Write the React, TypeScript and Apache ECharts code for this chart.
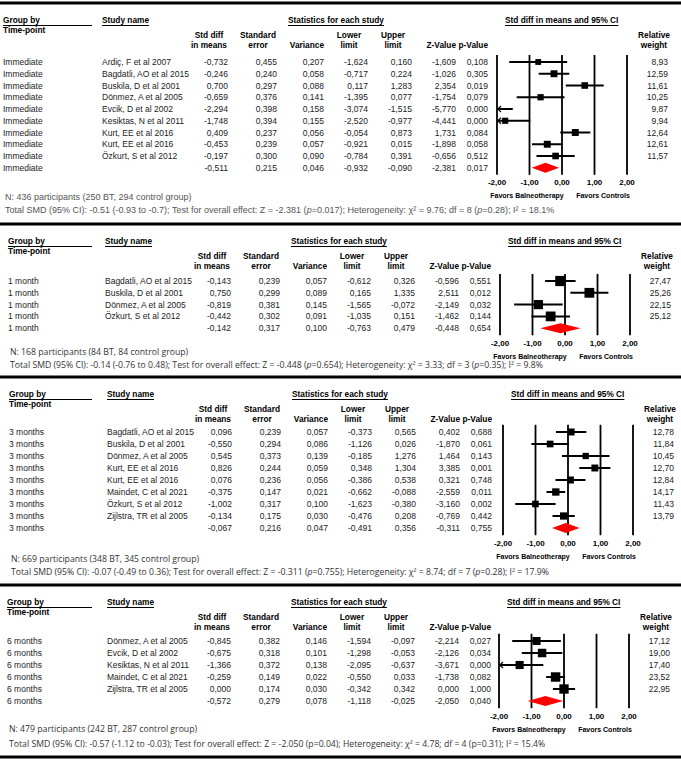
import React, { useEffect, useRef } from "react";
import * as echarts from "echarts";

const tickValues = [-2, -1, 0, 1, 2];

// ---------- Panel 1: Immediate ----------
const p1Group = "Immediate";
const p1Studies = ["Ardiç, F et al 2007", "Bagdatli, AO et al 2015", "Buskila, D et al 2001", "Dönmez, A et al 2005", "Evcik, D et al 2002", "Kesiktas, N et al 2011", "Kurt, EE et al 2016", "Kurt, EE et al 2016", "Özkurt, S et al 2012", ""];
const p1Smd = [-0.732, -0.246, 0.7, -0.659, -2.294, -1.748, 0.409, -0.453, -0.197, -0.511];
const p1Se = [0.455, 0.24, 0.297, 0.376, 0.398, 0.394, 0.237, 0.239, 0.3, 0.215];
const p1Var = [0.207, 0.058, 0.088, 0.141, 0.158, 0.155, 0.056, 0.057, 0.09, 0.046];
const p1Lower = [-1.624, -0.717, 0.117, -1.395, -3.074, -2.52, -0.054, -0.921, -0.784, -0.932];
const p1Upper = [0.16, 0.224, 1.283, 0.077, -1.515, -0.977, 0.873, 0.015, 0.391, -0.09];
const p1Z = [-1.609, -1.026, 2.354, -1.754, -5.77, -4.441, 1.731, -1.898, -0.656, -2.381];
const p1P = [0.108, 0.305, 0.019, 0.079, 0.0, 0.0, 0.084, 0.058, 0.512, 0.017];
const p1Weight = [8.93, 12.59, 11.61, 10.25, 9.87, 9.94, 12.64, 12.61, 11.57];
const p1N = "N: 436 participants (250 BT, 294 control group)";
const p1Total = "Total SMD (95% CI): -0.51 (-0.93 to -0.7); Test for overall effect: Z = -2.381 (p=0.017); Heterogeneity: χ² = 9.76; df = 8 (p=0.28); I² = 18.1%";

// ---------- Panel 2: 1 month ----------
const p2Group = "1 month";
const p2Studies = ["Bagdatli, AO et al 2015", "Buskila, D et al 2001", "Dönmez, A et al 2005", "Özkurt, S et al 2012", ""];
const p2Smd = [-0.143, 0.75, -0.819, -0.442, -0.142];
const p2Se = [0.239, 0.299, 0.381, 0.302, 0.317];
const p2Var = [0.057, 0.089, 0.145, 0.091, 0.1];
const p2Lower = [-0.612, 0.165, -1.565, -1.035, -0.763];
const p2Upper = [0.326, 1.335, -0.072, 0.151, 0.479];
const p2Z = [-0.596, 2.511, -2.149, -1.462, -0.448];
const p2P = [0.551, 0.012, 0.032, 0.144, 0.654];
const p2Weight = [27.47, 25.26, 22.15, 25.12];
const p2N = "N: 168 participants (84 BT, 84 control group)";
const p2Total = "Total SMD (95% CI): -0.14 (-0.76 to 0.48); Test for overall effect: Z = -0.448 (p=0.654); Heterogeneity: χ² = 3.33; df = 3 (p=0.35); I² = 9.8%";

// ---------- Panel 3: 3 months ----------
const p3Group = "3 months";
const p3Studies = ["Bagdatli, AO et al 2015", "Buskila, D et al 2001", "Dönmez, A et al 2005", "Kurt, EE et al 2016", "Kurt, EE et al 2016", "Maindet, C et al 2021", "Özkurt, S et al 2012", "Zijlstra, TR et al 2005", ""];
const p3Smd = [0.096, -0.55, 0.545, 0.826, 0.076, -0.375, -1.002, -0.134, -0.067];
const p3Se = [0.239, 0.294, 0.373, 0.244, 0.236, 0.147, 0.317, 0.175, 0.216];
const p3Var = [0.057, 0.086, 0.139, 0.059, 0.056, 0.021, 0.1, 0.03, 0.047];
const p3Lower = [-0.373, -1.126, -0.185, 0.348, -0.386, -0.662, -1.623, -0.476, -0.491];
const p3Upper = [0.565, 0.026, 1.276, 1.304, 0.538, -0.088, -0.38, 0.208, 0.356];
const p3Z = [0.402, -1.87, 1.464, 3.385, 0.321, -2.559, -3.16, -0.769, -0.311];
const p3P = [0.688, 0.061, 0.143, 0.001, 0.748, 0.011, 0.002, 0.442, 0.755];
const p3Weight = [12.78, 11.84, 10.45, 12.7, 12.84, 14.17, 11.43, 13.79];
const p3N = "N: 669 participants (348 BT, 345 control group)";
const p3Total = "Total SMD (95% CI): -0.07 (-0.49 to 0.36); Test for overall effect: Z = -0.311 (p=0.755); Heterogeneity: χ² = 8.74; df = 7 (p=0.28); I² = 17.9%";

// ---------- Panel 4: 6 months ----------
const p4Group = "6 months";
const p4Studies = ["Dönmez, A et al 2005", "Evcik, D et al 2002", "Kesiktas, N et al 2011", "Maindet, C et al 2021", "Zijlstra, TR et al 2005", ""];
const p4Smd = [-0.845, -0.675, -1.366, -0.259, 0.0, -0.572];
const p4Se = [0.382, 0.318, 0.372, 0.149, 0.174, 0.279];
const p4Var = [0.146, 0.101, 0.138, 0.022, 0.03, 0.078];
const p4Lower = [-1.594, -1.298, -2.095, -0.55, -0.342, -1.118];
const p4Upper = [-0.097, -0.053, -0.637, 0.033, 0.342, -0.025];
const p4Z = [-2.214, -2.126, -3.671, -1.738, 0.0, -2.05];
const p4P = [0.027, 0.034, 0.0, 0.082, 1.0, 0.04];
const p4Weight = [17.12, 19.0, 17.4, 23.52, 22.95];
const p4N = "N: 479 participants (242 BT, 287 control group)";
const p4Total = "Total SMD (95% CI): -0.57 (-1.12 to -0.03); Test for overall effect: Z = -2.050 (p=0.04); Heterogeneity: χ² = 4.78; df = 4 (p=0.31); I² = 15.4%";

const panels = [
  { group: p1Group, studies: p1Studies, smd: p1Smd, se: p1Se, variance: p1Var, lower: p1Lower, upper: p1Upper, z: p1Z, p: p1P, weight: p1Weight, nText: p1N, totalText: p1Total, italicP: true },
  { group: p2Group, studies: p2Studies, smd: p2Smd, se: p2Se, variance: p2Var, lower: p2Lower, upper: p2Upper, z: p2Z, p: p2P, weight: p2Weight, nText: p2N, totalText: p2Total, italicP: true },
  { group: p3Group, studies: p3Studies, smd: p3Smd, se: p3Se, variance: p3Var, lower: p3Lower, upper: p3Upper, z: p3Z, p: p3P, weight: p3Weight, nText: p3N, totalText: p3Total, italicP: true },
  { group: p4Group, studies: p4Studies, smd: p4Smd, se: p4Se, variance: p4Var, lower: p4Lower, upper: p4Upper, z: p4Z, p: p4P, weight: p4Weight, nText: p4N, totalText: p4Total, italicP: false },
];

// layout (positions only)
const ARIAL = "'Liberation Sans', Arial, sans-serif";
const SEGOE = "'Open Sans', 'Noto Sans', sans-serif";
const layouts = [
  { top: 3, row0: 62, step: 11.75, nY: 197, totalY: 210, groupX: 3, studyX: 102, dx: 0, fx: 497, footFont: ARIAL, footSize: 9, footColor: "#555" },
  { top: 224, row0: 281, step: 11.8, nY: 352, totalY: 365, groupX: 8, studyX: 105, dx: 3, fx: 500, footFont: SEGOE, footSize: 8.7, footColor: "#333" },
  { top: 377, row0: 432, step: 12, nY: 559, totalY: 572, groupX: 9, studyX: 107, dx: 4, fx: 503, footFont: SEGOE, footSize: 8.7, footColor: "#333" },
  { top: 585, row0: 641, step: 12, nY: 729, totalY: 744, groupX: 7, studyX: 107, dx: 3, fx: 499, footFont: SEGOE, footSize: 8.7, footColor: "#333" },
];
const FW = 130;
const COLS = [228, 277, 324, 368, 412, 456, 488];

const fmt3 = (v: number) => v.toFixed(3).replace(".", ",");
const fmt2 = (v: number) => v.toFixed(2).replace(".", ",");

let measureCtx: CanvasRenderingContext2D | null = null;
function measure(text: string, font: string) {
  if (!measureCtx) measureCtx = document.createElement("canvas").getContext("2d");
  measureCtx!.font = font;
  return measureCtx!.measureText(text).width;
}

function txt(text: string, x: number, y: number, font: string, align = "left", fill = "#222", extra: any = {}) {
  return { type: "text", x, y, silent: true, style: { text, font, fill, align, verticalAlign: "middle", ...extra } };
}
function hline(x1: number, x2: number, y: number, w = 1) {
  return { type: "line", silent: true, shape: { x1, y1: y, x2, y2: y }, style: { stroke: "#000", lineWidth: w } };
}

function buildGraphics() {
  const g: any[] = [];
  const hb = `bold 8.3px ${ARIAL}`;
  const body = `8.5px ${ARIAL}`;
  panels.forEach((p, i) => {
    const L = layouts[i];
    const T = L.top;
    const d = L.dx;
    g.push(hline(0, 681, T, 3));
    // headers
    g.push(txt("Group by", L.groupX, T + 17, hb, "left", "#000"));
    g.push(hline(L.groupX, 92, T + 22.5, 1));
    g.push(txt("Time-point", L.groupX, T + 27, hb, "left", "#000"));
    const underlined = [
      ["Study name", L.studyX],
      ["Statistics for each study", 288 + d],
      ["Std diff in means and 95% CI", L.fx + 8],
    ] as [string, number][];
    underlined.forEach(([t, x]) => {
      g.push(txt(t, x, T + 17, hb, "left", "#000"));
      g.push(hline(x, x + measure(t, hb), T + 22.5, 1));
    });
    const two = [
      ["Std diff", "in means", COLS[0] + d - 19],
      ["Standard", "error", COLS[1] + d - 19],
      ["Lower", "limit", COLS[3] + d - 19],
      ["Upper", "limit", COLS[4] + d - 19],
      ["Relative", "weight", L.fx + 157],
    ] as [string, string, number][];
    two.forEach(([a, b, x]) => {
      g.push(txt(a, x, T + 32, hb, "center", "#000"));
      g.push(txt(b, x, T + 42, hb, "center", "#000"));
    });
    g.push(txt("Variance", COLS[2] + d, T + 42, hb, "right", "#000"));
    g.push(txt("Z-Value", COLS[5] + d, T + 42, hb, "right", "#000"));
    g.push(txt("p-Value", COLS[6] + d, T + 42, hb, "right", "#000"));
    // rows
    p.studies.forEach((s, r) => {
      const y = L.row0 + r * L.step;
      g.push(txt(p.group, L.groupX, y, body));
      if (s) g.push(txt(s, L.studyX, y, body));
      const vals = [p.smd[r], p.se[r], p.variance[r], p.lower[r], p.upper[r], p.z[r], p.p[r]];
      vals.forEach((v, c) => g.push(txt(fmt3(v), COLS[c] + d, y, body, "right")));
      if (r < p.weight.length) g.push(txt(fmt2(p.weight[r]), L.fx + 171, y, body, "right"));
    });
    const summaryY = L.row0 + (p.studies.length - 1) * L.step;
    const ff = `bold 7px ${ARIAL}`;
    g.push(txt("Favors Balneotherapy", L.fx + 30, summaryY + 28, ff, "center", "#000"));
    g.push(txt("Favors Controls", L.fx + 106, summaryY + 28, ff, "center", "#000"));
    // footers
    const footFont = `${L.footSize}px ${L.footFont}`;
    g.push(txt(p.nText, L.groupX + 2, L.nY, footFont, "left", L.footColor));
    const rich = p.italicP ? p.totalText.replace(/\(p=/g, "({i|p}=") : p.totalText;
    g.push(txt(rich, L.groupX + 2, L.totalY, footFont, "left", L.footColor, {
      rich: { i: { fontStyle: "italic", font: `italic ${L.footSize}px ${L.footFont}`, fill: L.footColor } },
    }));
  });
  g.push(hline(0, 681, 757, 3));
  return g;
}

export default function App() {
  const ref = useRef<HTMLDivElement>(null);
  useEffect(() => {
    const chart = echarts.init(ref.current!, null, { renderer: "svg" });
    const grids: any[] = [];
    const xAxes: any[] = [];
    const yAxes: any[] = [];
    const series: any[] = [];
    panels.forEach((p, i) => {
      const L = layouts[i];
      const n = p.studies.length;
      grids.push({ left: L.fx, top: L.row0 - 0.6 * L.step, width: FW, height: (n - 1 + 1.2) * L.step, show: false });
      xAxes.push({
        gridIndex: i, type: "value", min: -2, max: 2, interval: 1,
        axisLine: { show: false }, axisTick: { show: false }, splitLine: { show: false },
        axisLabel: { formatter: (v: number) => fmt2(v), fontSize: 8, fontWeight: "bold", color: "#000", fontFamily: ARIAL, margin: 4, showMinLabel: true, showMaxLabel: true },
      });
      yAxes.push({ gridIndex: i, type: "value", min: -0.6, max: n - 1 + 0.6, inverse: true, show: false });
      series.push({
        type: "custom", xAxisIndex: i, yAxisIndex: i, z: 1, silent: true, clip: false,
        data: tickValues.map((v) => [v, 0]),
        encode: { x: 0, y: 1 },
        renderItem: (params: any, api: any) => {
          const cs = params.coordSys;
          const x = api.coord([api.value(0), 0])[0];
          return { type: "line", shape: { x1: x, y1: cs.y, x2: x, y2: cs.y + cs.height }, style: { stroke: "#000", lineWidth: 1.8 } };
        },
      });
      const rows = p.studies.map((_, r) => [r, p.smd[r], p.lower[r], p.upper[r], r < p.weight.length ? p.weight[r] : 0, r === n - 1 ? 1 : 0]);
      series.push({
        type: "custom", xAxisIndex: i, yAxisIndex: i, z: 3, silent: true, clip: false,
        data: rows,
        encode: { x: [1, 2, 3], y: 0 },
        renderItem: (params: any, api: any) => {
          const row = api.value(0), est = api.value(1), lo = api.value(2), hi = api.value(3), w = api.value(4), summ = api.value(5);
          const y = api.coord([0, row])[1];
          const X = (v: number) => api.coord([v, row])[0];
          if (summ) {
            return { type: "polygon", shape: { points: [[X(lo), y], [X(est), y - 5], [X(hi), y], [X(est), y + 5]] }, style: { fill: "#ff0000", stroke: "none" } };
          }
          const children: any[] = [];
          const l = Math.max(lo, -2), h = Math.min(hi, 2);
          children.push({ type: "line", shape: { x1: X(l), y1: y, x2: X(h), y2: y }, style: { stroke: "#000", lineWidth: 2 } });
          if (lo < -2) {
            const ax = X(-2);
            children.push({ type: "polyline", shape: { points: [[ax + 4, y - 3], [ax + 0.8, y], [ax + 4, y + 3]] }, style: { stroke: "#000", lineWidth: 1.2, fill: "none" } });
          }
          if (est >= -2 && est <= 2) {
            const s = 1.95 * Math.sqrt(w);
            children.push({ type: "rect", shape: { x: X(est) - s / 2, y: y - s / 2, width: s, height: s }, style: { fill: "#000" } });
          }
          return { type: "group", children };
        },
      });
    });
    chart.setOption({
      animation: false,
      backgroundColor: "#fff",
      grid: grids,
      xAxis: xAxes,
      yAxis: yAxes,
      series,
      graphic: buildGraphics(),
    });
    return () => chart.dispose();
  }, []);
  return <div ref={ref} style={{ position: "absolute", left: 0, top: 0, width: 681, height: 760, background: "#fff" }} />;
}
